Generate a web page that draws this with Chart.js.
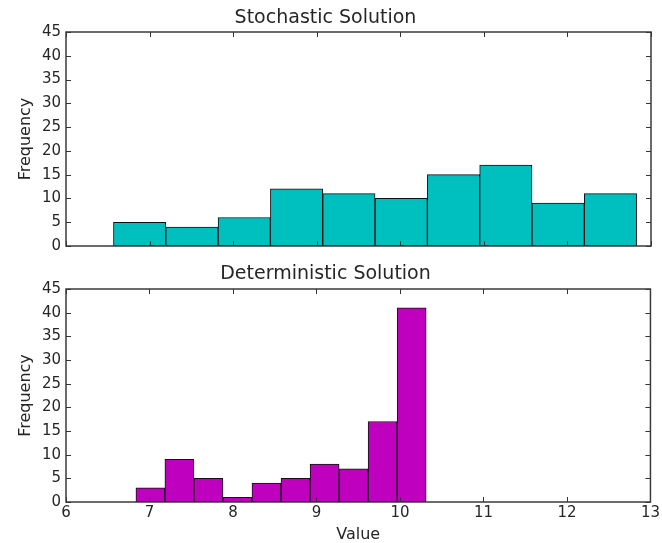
<!DOCTYPE html>
<html><head><meta charset="utf-8">
<script src="https://cdn.jsdelivr.net/npm/chart.js@4/dist/chart.umd.min.js"></script>
<style>
html,body{margin:0;padding:0;background:#fff;}
#wrap{position:relative;width:662px;height:543px;overflow:hidden;background:#fff;}
canvas{position:absolute;left:0;}
#c1{top:0;}
#c2{top:250px;}
</style></head><body>
<div id="wrap"><canvas id="c1" width="662" height="262"></canvas><canvas id="c2" width="662" height="293"></canvas></div>
<script>
// ---- data ----
const xTickValues = [6, 7, 8, 9, 10, 11, 12, 13];
const yTickValues = [0, 5, 10, 15, 20, 25, 30, 35, 40, 45];
const stochBinCenters = [6.881, 7.507, 8.133, 8.759, 9.385, 10.011, 10.637, 11.263, 11.889, 12.515];
const stochCounts     = [5, 4, 6, 12, 11, 10, 15, 17, 9, 11];
const detBinCenters   = [7.011, 7.358, 7.706, 8.054, 8.401, 8.749, 9.097, 9.444, 9.792, 10.140];
const detCounts       = [3, 9, 5, 1, 4, 5, 8, 7, 17, 41];
const titles = ['Stochastic Solution', 'Deterministic Solution'];

const FONT = 'DejaVu Sans';
const TXT = '#262626';
Chart.defaults.font.family = FONT;
Chart.defaults.color = TXT;

const frameTicks = {
  id: 'frameTicks',
  afterDatasetsDraw(chart) {
    const {ctx, chartArea: a, scales: {x, y}} = chart;
    const L = 5;
    ctx.save();
    ctx.strokeStyle = '#333';
    ctx.lineWidth = 1;
    ctx.beginPath();
    x.ticks.forEach(t => {
      const p = Math.round(x.getPixelForValue(t.value)) + 0.5;
      ctx.moveTo(p, a.bottom); ctx.lineTo(p, a.bottom - L);
      ctx.moveTo(p, a.top); ctx.lineTo(p, a.top + L);
    });
    y.ticks.forEach(t => {
      const p = Math.round(y.getPixelForValue(t.value)) + 0.5;
      ctx.moveTo(a.left, p); ctx.lineTo(a.left + L, p);
      ctx.moveTo(a.right, p); ctx.lineTo(a.right - L, p);
    });
    ctx.stroke();
    ctx.lineWidth = 1.5;
    ctx.strokeStyle = '#3a3a3a';
    ctx.strokeRect(a.left, a.top, a.right - a.left, a.bottom - a.top);
    ctx.restore();
  }
};

function makeChart(id, centers, counts, color, title, isBottom) {
  const data = centers.map((c, i) => ({x: c, y: counts[i]}));
  return new Chart(document.getElementById(id), {
    type: 'bar',
    data: {datasets: [{
      data,
      backgroundColor: color,
      borderColor: '#111',
      borderWidth: 1,
      borderSkipped: false,
      barPercentage: 1,
      categoryPercentage: 1
    }]},
    options: {
      responsive: false,
      animation: false,
      layout: {padding: {left: 0, right: 11, top: 0, bottom: 0}},
      plugins: {
        legend: {display: false},
        tooltip: {enabled: false},
        title: {
          display: true, text: title, color: TXT,
          font: {family: FONT, size: 19, weight: 'normal', lineHeight: 1.2},
          padding: isBottom ? {top: 12.6, bottom: 3.6} : {top: 6.6, bottom: 2.6}
        }
      },
      scales: {
        x: {
          type: 'linear', min: 6, max: 13, offset: false,
          afterBuildTicks: s => { s.ticks = xTickValues.map(v => ({value: v})); },
          grid: {display: false, drawTicks: false},
          border: {display: false},
          ticks: {display: isBottom, padding: 2, font: {size: 15}, color: TXT},
          title: {display: isBottom, text: 'Value', color: TXT,
                  font: {size: 16, lineHeight: 1}, padding: {top: 0, bottom: 0}},
          afterFit: s => { s.height = isBottom ? 41 : 16; }
        },
        y: {
          min: 0, max: 45,
          afterBuildTicks: s => { s.ticks = yTickValues.map(v => ({value: v})); },
          grid: {display: false, drawTicks: false},
          border: {display: false},
          ticks: {padding: 5, font: {size: 15}, color: TXT},
          title: {display: true, text: 'Frequency', color: TXT,
                  font: {size: 16, lineHeight: 1}, padding: {top: 18, bottom: 0}},
          afterFit: s => { s.width = 66; }
        }
      }
    },
    plugins: [frameTicks]
  });
}

makeChart('c1', stochBinCenters, stochCounts, '#00BFBF', titles[0], false);
makeChart('c2', detBinCenters, detCounts, '#BF00BF', titles[1], true);
</script>
</body></html>
